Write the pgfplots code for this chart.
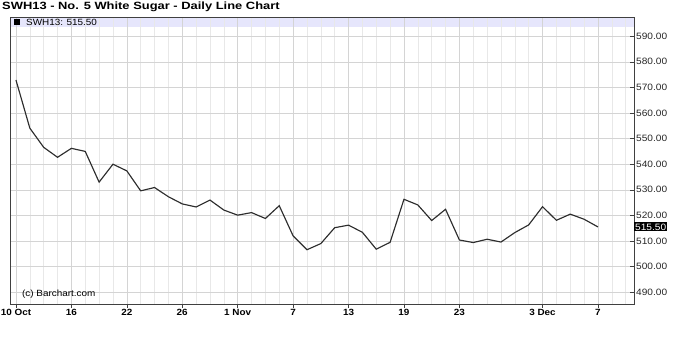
\documentclass[border=0pt]{standalone}
\usepackage{fontspec}
\setmainfont{Liberation Sans}
\newfontfamily\cf[FakeStretch=1.1]{Liberation Sans}
\newfontfamily\tf[FakeStretch=1.23]{Liberation Sans}
\usepackage{pgfplots}
\pgfplotsset{compat=1.18}
\definecolor{band}{RGB}{230,230,252}
\definecolor{lin}{RGB}{45,45,45}
\begin{document}
\begin{tikzpicture}[x=1pt,y=1pt]
\path[use as bounding box] (0,0) rectangle (674,338);
\node[anchor=west,inner sep=0pt,font=\tf\bfseries\fontsize{10.5}{12}\selectfont] at (2,331) {SWH13 - No. 5 White Sugar - Daily Line Chart};
\fill[band] (10,311) rectangle (634,321);
\begin{axis}[
  at={(10pt,34pt)}, anchor=south west, scale only axis,
  width=624pt, height=287pt,
  xmin=-0.43, xmax=44.6, ymin=485.4, ymax=597.5,
  xtick={0,4,8,12,16,20,24,28,32,38,42},
  xticklabels={10 Oct,16,22,26,1 Nov,7,13,19,23,3 Dec,7},
  minor xtick={0,...,44},
  ytick={490,500,...,590},
  xtick pos=left, ytick pos=right, yticklabel pos=right,
  tick align=inside, major tick length=4pt, minor tick length=0pt,
  every major x tick/.append style={yshift=-4pt},
  tick style={black!75, line width=0.6pt},
  grid=both,
  major grid style={black!17, line width=0.6pt},
  minor grid style={black!9, line width=0.6pt},
  axis line style={black!75, line width=1pt},
  /pgf/number format/.cd, fixed, fixed zerofill, precision=2, 1000 sep={}, assume math mode=true,
  /pgfplots/.cd,
  yticklabel style={font=\cf\fontsize{9.2}{10}\selectfont, anchor=west, inner sep=0pt, xshift=2pt, text=black!85},
  xticklabel style={font=\cf\bfseries\fontsize{9}{10}\selectfont, anchor=north, inner sep=0pt, yshift=-5pt},
  clip=false,
]
\addplot[lin, line width=1.15pt, mark=none] coordinates {
(0,572.9) (1,554.1) (2,546.6) (3,542.7) (4,546.2) (5,545.0) (6,533.0) (7,540.0)
(8,537.4) (9,529.6) (10,530.9) (11,527.3) (12,524.5) (13,523.3) (14,526.0)
(15,522.1) (16,520.1) (17,521.1) (18,518.8) (19,523.8) (20,512.0) (21,506.6)
(22,509.0) (23,515.2) (24,516.2) (25,513.4) (26,506.8) (27,509.5) (28,526.3)
(29,524.1) (30,518.0) (31,522.4) (32,510.4) (33,509.4) (34,510.7) (35,509.6)
(36,513.3) (37,516.3) (38,523.4) (39,518.1) (40,520.5) (41,518.5) (42,515.5)
};
\node[anchor=west, fill=black, text=white, inner xsep=1pt, inner ysep=1.2pt, font=\cf\fontsize{9.2}{10}\selectfont] at (axis cs:44.6,515.5) {515.50};
\end{axis}
\fill[black] (14,313) rectangle (20,319);
\node[anchor=west,inner sep=0pt,font=\cf\fontsize{9}{10}\selectfont] at (26,316) {SWH13: 515.50};
\node[anchor=west,inner sep=0pt,font=\cf\fontsize{9}{10}\selectfont] at (22,44) {(c) Barchart.com};
\end{tikzpicture}
\end{document}
